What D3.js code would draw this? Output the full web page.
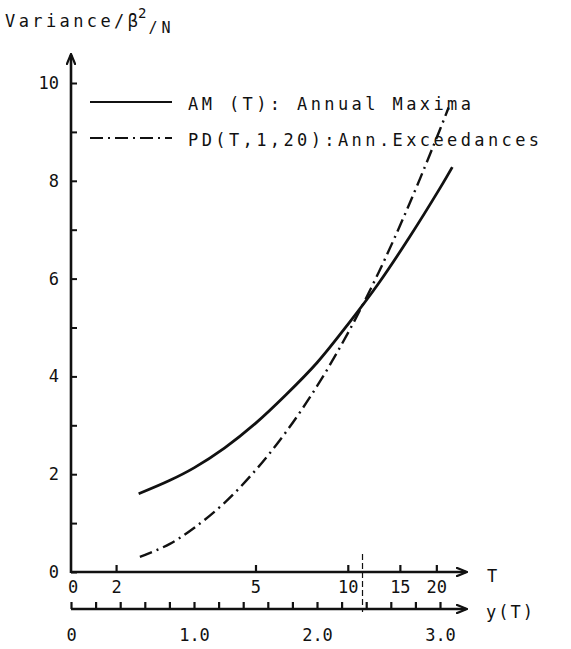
<!DOCTYPE html>
<html>
<head>
<meta charset="utf-8">
<script src="https://cdn.jsdelivr.net/npm/d3@7"></script>
<style>
  body { margin: 0; background: #fff; }
  svg { display: block; }
  text { font-family: "DejaVu Sans Mono", monospace; fill: #111; }
</style>
</head>
<body>
<div class="chart"></div>
<script>
// reduced variate y(T) positions and variances
const amYT = [0.55, 0.8, 1.0, 1.25, 1.5, 1.75, 2.0, 2.25, 2.5, 2.75, 3.0, 3.1];
const amVar = [1.60, 1.87, 2.13, 2.54, 3.04, 3.63, 4.28, 5.06, 5.90, 6.84, 7.85, 8.28];
const pdYT = [0.56, 0.8, 1.0, 1.25, 1.5, 1.75, 2.0, 2.25, 2.5, 2.75, 3.0, 3.07];
const pdVar = [0.31, 0.57, 0.90, 1.42, 2.08, 2.87, 3.80, 4.88, 6.12, 7.52, 9.05, 9.50];

const tTicks = [2, 5, 10, 15, 20];
const yTTicks = d3.range(0, 16).map(i => i * 0.2);
const varTicks = d3.range(0, 11);
const crossYT = 2.37;

const legendLabels = ["AM (T): Annual Maxima", "PD(T,1,20):Ann.Exceedances"];

const width = 571, height = 649;
const fs = 17, ls = 3.4;

const gumbel = T => -Math.log(-Math.log(1 - 1 / T));

const svg = d3.select(".chart").append("svg")
    .attr("width", width)
    .attr("height", height);

svg.append("defs").append("marker")
    .attr("id", "arrow")
    .attr("viewBox", "0 -5 12 10")
    .attr("refX", 10).attr("refY", 0)
    .attr("markerWidth", 12).attr("markerHeight", 10)
    .attr("markerUnits", "userSpaceOnUse")
    .attr("orient", "auto")
    .append("path")
    .attr("d", "M0,-4.5L11,0L0,4.5")
    .attr("fill", "none")
    .attr("stroke", "#111")
    .attr("stroke-width", 2.2);

const x = d3.scaleLinear().domain([0, 3]).range([71, 440]);
const y = d3.scaleLinear().domain([0, 10]).range([572, 83]);
const yTAxisY = 609;

// y axis
const gY = svg.append("g").attr("transform", `translate(${x(0)},0)`);
gY.call(d3.axisLeft(y)
    .tickValues(varTicks)
    .tickSizeInner(-6)
    .tickSizeOuter(0)
    .tickPadding(12)
    .tickFormat(d => d % 2 === 0 ? d : ""));
gY.select(".domain").remove();
gY.selectAll(".tick line").attr("stroke", "#111").attr("stroke-width", 2);
gY.selectAll(".tick text").style("font-family", "DejaVu Sans Mono").style("font-size", fs + "px").attr("fill", "#111");
svg.append("line")
    .attr("x1", x(0)).attr("x2", x(0))
    .attr("y1", y(0) + 1).attr("y2", y(10) - 28)
    .attr("stroke", "#111").attr("stroke-width", 2.6)
    .attr("marker-end", "url(#arrow)");

// T axis (on the zero line)
const gT = svg.append("g").attr("transform", `translate(0,${y(0)})`);
gT.call(d3.axisBottom(x)
    .tickValues(tTicks.map(gumbel))
    .tickSizeInner(-7)
    .tickSizeOuter(0)
    .tickPadding(9)
    .tickFormat((d, i) => tTicks[i]));
gT.select(".domain").remove();
gT.selectAll(".tick line").attr("stroke", "#111").attr("stroke-width", 2.2);
gT.selectAll(".tick text").style("font-family", "DejaVu Sans Mono").style("font-size", fs + "px").attr("fill", "#111");
gT.append("text")
    .attr("x", x(0) + 2).attr("y", 9).attr("dy", "0.71em")
    .attr("text-anchor", "middle")
    .style("font-size", fs + "px")
    .text("0");
svg.append("line")
    .attr("x1", x(0)).attr("x2", x(3) + 26)
    .attr("y1", y(0)).attr("y2", y(0))
    .attr("stroke", "#111").attr("stroke-width", 2.6)
    .attr("marker-end", "url(#arrow)");
svg.append("text")
    .attr("x", x(3) + 47).attr("y", y(0) + 10)
    .style("font-size", fs + "px")
    .text("T");

// y(T) axis
const gYT = svg.append("g").attr("transform", `translate(0,${yTAxisY})`);
gYT.call(d3.axisBottom(x)
    .tickValues(yTTicks)
    .tickSizeInner(-7)
    .tickSizeOuter(0)
    .tickPadding(20)
    .tickFormat(d => d < 1e-9 ? "0" : (Math.abs(d - Math.round(d)) < 1e-6 ? d3.format(".1f")(d) : "")));
gYT.select(".domain").remove();
gYT.selectAll(".tick line").attr("stroke", "#111").attr("stroke-width", 2.2);
gYT.selectAll(".tick text").style("font-family", "DejaVu Sans Mono").style("font-size", fs + "px").attr("fill", "#111");
svg.append("line")
    .attr("x1", x(0)).attr("x2", x(3) + 26)
    .attr("y1", yTAxisY).attr("y2", yTAxisY)
    .attr("stroke", "#111").attr("stroke-width", 2.6)
    .attr("marker-end", "url(#arrow)");
svg.append("text")
    .attr("x", x(3) + 46).attr("y", yTAxisY + 9)
    .style("font-size", fs + "px")
    .style("letter-spacing", "2px")
    .text("y(T)");

// crossing marker
svg.append("line")
    .attr("x1", x(crossYT)).attr("x2", x(crossYT))
    .attr("y1", y(0) - 18).attr("y2", yTAxisY + 3)
    .attr("stroke", "#111").attr("stroke-width", 1.2)
    .attr("stroke-dasharray", "6,3");

// title
const title = svg.append("text").attr("x", 5).attr("y", 27).style("font-size", fs + "px");
title.append("tspan").style("letter-spacing", ls + "px").text("Variance/");
title.append("tspan").text("β");
title.append("tspan").attr("dy", -9).style("font-size", "14px").text("2");
title.append("tspan").attr("dy", 15).attr("dx", 2).style("font-size", "15px").text("/");
title.append("tspan").attr("dx", 4).style("font-size", "15px").text("N");

// curves
const line = d3.line()
    .x(d => x(d[0]))
    .y(d => y(d[1]))
    .curve(d3.curveCatmullRom.alpha(0.5));

svg.append("path")
    .datum(d3.zip(amYT, amVar))
    .attr("d", line)
    .attr("fill", "none")
    .attr("stroke", "#111")
    .attr("stroke-width", 2.8);

svg.append("path")
    .datum(d3.zip(pdYT, pdVar))
    .attr("d", line)
    .attr("fill", "none")
    .attr("stroke", "#111")
    .attr("stroke-width", 2.4)
    .attr("stroke-dasharray", "13,5,2,5");

// legend
const legend = svg.append("g");
const legendY = [102, 138];
const dashes = [null, "13,5,2,5"];
legendLabels.forEach((lab, i) => {
    legend.append("line")
        .attr("x1", 90).attr("x2", 172)
        .attr("y1", legendY[i]).attr("y2", legendY[i])
        .attr("stroke", "#111")
        .attr("stroke-width", 2)
        .attr("stroke-dasharray", dashes[i]);
    legend.append("text")
        .attr("x", 188).attr("y", legendY[i] + 8)
        .style("font-size", fs + "px")
        .style("letter-spacing", ls + "px")
        .text(lab);
});
</script>
</body>
</html>
